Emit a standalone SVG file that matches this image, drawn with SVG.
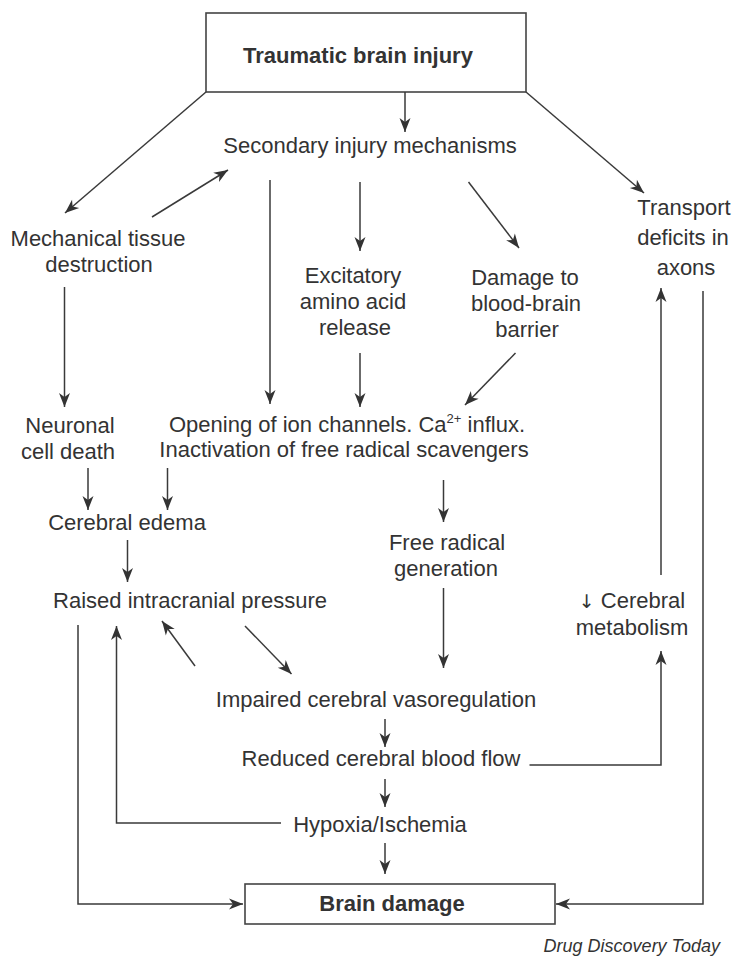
<svg xmlns="http://www.w3.org/2000/svg" width="736" height="959" viewBox="0 0 736 959">
<style>
text{font-family:"Liberation Sans",Arial,Helvetica,sans-serif;font-size:22px;fill:#333;text-anchor:middle}
.b{font-weight:bold}
.sym{font-family:"DejaVu Sans",sans-serif;font-size:19px}
.cap{font-style:italic;font-size:18px;text-anchor:end}
.box{fill:#fff;stroke:#444;stroke-width:1.6}
.c line,.c polyline{stroke:#3a3a3a;stroke-width:1.5;fill:none}
.a{marker-end:url(#ah)}
</style>
<defs>
<marker id="ah" viewBox="-15 -7 16 14" refX="0" refY="0" markerWidth="16" markerHeight="14" markerUnits="userSpaceOnUse" orient="auto">
<path d="M0,0 L-14,-5.5 L-10,0 L-14,5.5 z" fill="#333"/>
</marker>
</defs>
<rect width="736" height="959" fill="#fff"/>

<g id="tbi"><rect class="box" x="206" y="13" width="320" height="79"/><text class="b" x="358" y="63">Traumatic brain injury</text></g>
<g id="secondary"><text x="370" y="153">Secondary injury mechanisms</text></g>
<g id="mechanical"><text x="98" y="246">Mechanical tissue</text><text x="99" y="272">destruction</text></g>
<g id="transport"><text x="684" y="215">Transport</text><text x="683" y="245">deficits in</text><text x="686" y="275">axons</text></g>
<g id="excitatory"><text x="353" y="283">Excitatory</text><text x="353" y="309">amino acid</text><text x="355" y="335">release</text></g>
<g id="bbb"><text x="525" y="285">Damage to</text><text x="526" y="311">blood-brain</text><text x="527" y="337">barrier</text></g>
<g id="neuronal"><text x="70" y="433">Neuronal</text><text x="68" y="459">cell death</text></g>
<g id="ion"><text x="347" y="432">Opening of ion channels. Ca<tspan font-size="13" dy="-9">2+</tspan><tspan dy="9">  influx.</tspan></text><text x="344" y="457">Inactivation of free radical scavengers</text></g>
<g id="edema"><text x="127" y="530">Cerebral edema</text></g>
<g id="freeradical"><text x="447" y="550">Free radical</text><text x="446" y="576">generation</text></g>
<g id="icp"><text x="190" y="608">Raised intracranial pressure</text></g>
<g id="metabolism"><text x="632" y="608"><tspan class="sym">↓</tspan> Cerebral</text><text x="632" y="635">metabolism</text></g>
<g id="vasoreg"><text x="376" y="707">Impaired cerebral vasoregulation</text></g>
<g id="cbf"><text x="381" y="766">Reduced cerebral blood flow</text></g>
<g id="hypoxia"><text x="380" y="832">Hypoxia/Ischemia</text></g>
<g id="damage"><rect class="box" x="245" y="884" width="310" height="40"/><text class="b" x="392" y="911">Brain damage</text></g>
<text class="cap" x="720" y="952">Drug Discovery Today</text>

<g id="connectors" class="c">
<line class="a" x1="405" y1="92" x2="405" y2="132"/>
<line class="a" x1="206" y1="92" x2="65" y2="213"/>
<line class="a" x1="526" y1="92" x2="644" y2="193"/>
<line class="a" x1="152" y1="217" x2="228" y2="170"/>
<line class="a" x1="270" y1="180" x2="270" y2="404"/>
<line class="a" x1="360" y1="182" x2="360" y2="251"/>
<line class="a" x1="468.5" y1="182" x2="519" y2="248"/>
<line class="a" x1="64.5" y1="287" x2="64.5" y2="407"/>
<line class="a" x1="360" y1="353" x2="360" y2="407"/>
<line class="a" x1="515.5" y1="353" x2="465" y2="405"/>
<line class="a" x1="88" y1="468" x2="88" y2="510"/>
<line class="a" x1="167.5" y1="468" x2="167.5" y2="510"/>
<line class="a" x1="127.5" y1="540" x2="127.5" y2="582"/>
<line class="a" x1="443.5" y1="480" x2="443.5" y2="522"/>
<line class="a" x1="443.5" y1="588" x2="443.5" y2="668"/>
<line class="a" x1="195" y1="666" x2="162" y2="621"/>
<line class="a" x1="245" y1="626" x2="291.5" y2="674"/>
<line class="a" x1="385" y1="719" x2="385" y2="747"/>
<line class="a" x1="385" y1="779" x2="385" y2="807"/>
<line class="a" x1="385" y1="843" x2="385" y2="874"/>
<polyline class="a" points="529.5,765 661,765 661,651"/>
<line class="a" x1="661" y1="575" x2="661" y2="288"/>
<polyline class="a" points="703,291 703,904 556,904"/>
<polyline class="a" points="78,625 78,904 243,904"/>
<polyline class="a" points="281,823 116.5,823 116.5,626"/>
</g>
</svg>
